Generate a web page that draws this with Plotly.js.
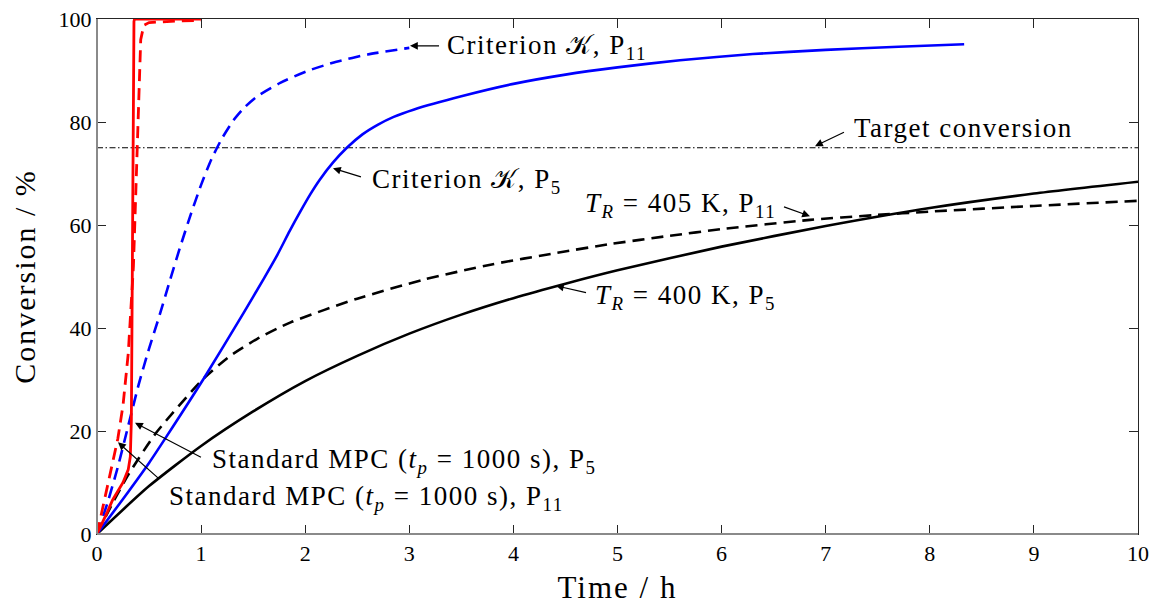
<!DOCTYPE html>
<html>
<head>
<meta charset="utf-8">
<script src="https://cdn.plot.ly/plotly-3.0.1.min.js"></script>
<style>
html,body{margin:0;padding:0;background:#fff;}
#chart{width:1162px;height:611px;}
.annotation-text{letter-spacing:1.5px;}
.xtitle,.ytitle{letter-spacing:2px;}
</style>
</head>
<body>
<div id="chart"></div>
<script>
// ---- Data (time in h, conversion in %) ----
const tBlackSolid = [0,0.5,1,1.5,2,2.5,3,3.5,4,4.5,5,6,7,8,9,10];
const yBlackSolid = [0,9.3,17.1,23.8,29.7,34.6,38.9,42.6,45.8,48.6,51.2,55.8,59.8,63.3,66.1,68.4];

const tBlackDash = [0,0.15,0.3,0.57,1.02,1.28,1.54,1.86,2.5,3.14,3.78,4.42,4.93,5.5,6,6.85,7.46,8,9,10];
const yBlackDash = [0,6,11.5,19.7,30.1,34.6,37.9,41.1,45.7,49.4,52.3,54.6,56.3,57.9,59.2,61.0,61.9,62.6,63.7,64.7];

const tBlueSolid = [0,0.25,0.5,0.67,1.02,1.41,1.6,1.73,1.85,1.95,2.05,2.14,2.27,2.4,2.55,2.7,2.85,3.04,3.5,4.0,4.5,5.0,5.6,6.3,7,7.7,8.33];
const yBlueSolid = [0,6.8,13.8,19,30,43,49.5,54.1,58.8,62.5,66,68.8,72.2,75.0,77.6,79.5,81.0,82.4,85.0,87.4,89.2,90.6,92.0,93.2,94.0,94.6,95.1];

const tBlueDash = [0,0.1,0.2,0.3,0.4,0.5,0.6,0.7,0.8,0.9,1.0,1.1,1.2,1.31,1.42,1.54,1.76,2.02,2.3,2.6,3.0];
const yBlueDash = [0,6,13,21,29,36,42.4,49.2,55.8,62.0,67.8,72.8,76.8,80.3,82.9,85.0,87.6,89.9,91.7,93.1,94.4];

const tRedSolid = [0,0.05,0.1,0.15,0.2,0.25,0.3,0.32,0.33,0.335,0.34,0.345,0.35,0.355,0.36,0.5,0.75,1.0];
const yRedSolid = [0,2,4.3,6.6,8.4,10,12.5,15,22,40,60,80,95,99.5,100,100,100,100];

const tRedDash = [0,0.05,0.1,0.15,0.2,0.25,0.3,0.35,0.38,0.4,0.42,0.45,0.5,0.75,1.0];
const yRedDash = [0,4.5,9,13.5,18.5,25,35,52,72,87,96,98.8,99.3,99.6,99.7];

const tTarget = [0,10];
const yTarget = [75,75];

const xTicks = [0,1,2,3,4,5,6,7,8,9,10];
const yTicks = [0,20,40,60,80,100];

const FONT = "'Liberation Serif', 'DejaVu Serif', serif";

function line(x,y,color,dash,width,shape){
  return {x:x,y:y,type:'scatter',mode:'lines',hoverinfo:'skip',showlegend:false,
    line:{color:color,dash:dash,width:width,shape:shape||'spline',smoothing:0.6}};
}

const traces = [
  line(tTarget,yTarget,'#000','6px,2.5px,1.5px,2.5px',1.2,'linear'),
  line(tBlackSolid,yBlackSolid,'#000','solid',2.6),
  line(tBlackDash,yBlackDash,'#000','12px,7px',2.6),
  line(tBlueSolid,yBlueSolid,'#0000ff','solid',2.6),
  line(tBlueDash,yBlueDash,'#0000ff','12px,7px',2.6),
  line(tRedDash,yRedDash,'#ff0000','12px,7px',2.8,'linear'),
  line(tRedSolid,yRedSolid,'#ff0000','solid',2.8,'linear')
];

function arrow(tx,ty,ax,ay){
  return {x:tx,y:ty,ax:ax,ay:ay,axref:'x',ayref:'y',xref:'x',yref:'y',text:' ',
    showarrow:true,arrowhead:2,arrowsize:1.3,arrowwidth:1.2,arrowcolor:'#000',standoff:0,startstandoff:0};
}
function label(x,y,text,anchor){
  return {x:x,y:y,xref:'x',yref:'y',text:text,showarrow:false,xanchor:anchor,yanchor:'middle',
    font:{family:FONT,size:27,color:'#000'}};
}

const annotations = [
  arrow(3.007,94.8,3.324,94.8),
  label(3.343,94.6,'Criterion 𝒦, P<sub>11</sub>','left'),
  arrow(2.267,71.0,2.574,69.1),
  label(2.62,68.6,'Criterion 𝒦, P<sub>5</sub>','left'),
  arrow(6.897,75.3,7.214,78.4),
  label(7.25,78.9,'Target conversion','left'),
  arrow(6.849,61.7,6.561,63.8),
  label(6.54,63.9,'<i>T</i><sub><i>R</i></sub> = 405 K, P<sub>11</sub>','right'),
  arrow(4.409,48.2,4.736,46.7),
  label(4.765,46.0,'<i>T</i><sub><i>R</i></sub> = 400 K, P<sub>5</sub>','left'),
  arrow(0.365,21.6,1.037,14.5),
  label(1.085,14.2,'Standard MPC (<i>t</i><sub><i>p</i></sub> = 1000 s), P<sub>5</sub>','left'),
  arrow(0.202,17.8,0.624,10.2),
  label(0.672,7.0,'Standard MPC (<i>t</i><sub><i>p</i></sub> = 1000 s), P<sub>11</sub>','left')
];

const axisCommon = {
  showgrid:false, zeroline:false, showline:true, mirror:'ticks',
  linecolor:'#262626', linewidth:1, ticks:'inside', ticklen:9, tickwidth:1, tickcolor:'#262626',
  tickfont:{family:FONT,size:22,color:'#000'}
};

const layout = {
  width:1162, height:611,
  margin:{l:97,r:24,t:19,b:77,pad:0},
  paper_bgcolor:'#fff', plot_bgcolor:'#fff',
  font:{family:FONT,color:'#000'},
  xaxis:Object.assign({}, axisCommon, {
    range:[0,10], tickvals:xTicks, ticktext:xTicks.map(String),
    title:{text:'Time / h', font:{family:FONT,size:31,color:'#000'}, standoff:10}
  }),
  yaxis:Object.assign({}, axisCommon, {
    range:[0,100], tickvals:yTicks, ticktext:yTicks.map(String),
    title:{text:'Conversion / %', font:{family:FONT,size:30,color:'#000'}, standoff:14}
  }),
  shapes:[
    {type:'line',xref:'paper',yref:'paper',x0:0,x1:0,y0:0,y1:1,line:{color:'#8a8a8a',width:2},layer:'above'},
    {type:'line',xref:'paper',yref:'paper',x0:0,x1:1,y0:0,y1:0,line:{color:'#8a8a8a',width:2},layer:'above'}
  ],
  annotations:annotations
};

Plotly.newPlot('chart', traces, layout, {displayModeBar:false, staticPlot:true});
</script>
</body>
</html>
